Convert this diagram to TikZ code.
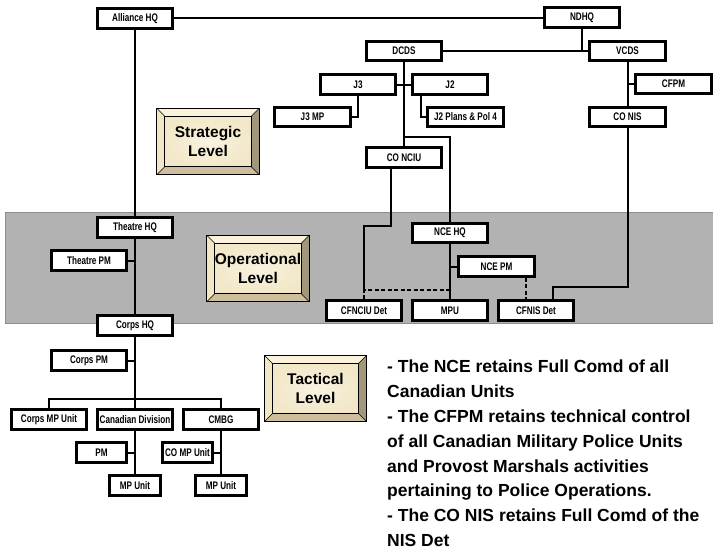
\documentclass[tikz,border=0pt]{standalone}
\usepackage{fontspec}
\setmainfont{Liberation Sans}
\newfontfamily\narrowfont{Liberation Sans}[FakeStretch=0.74]
\usetikzlibrary{backgrounds,calc}
\definecolor{bandgray}{HTML}{B2B2B2}
\definecolor{bandedge}{HTML}{8E8E8E}
\definecolor{lvlface}{HTML}{F2E8C9}
\definecolor{lvlfacein}{HTML}{F8F2DF}
\definecolor{lvltop}{HTML}{FAF2DB}
\definecolor{lvlleft}{HTML}{F1E6C6}
\definecolor{lvlright}{HTML}{A3977B}
\definecolor{lvlbottom}{HTML}{CDBF9E}
\newcommand\bevelbox[1]{%
  \coordinate (#1-onw) at ($(#1.north west)+(-8,-8)$);
  \coordinate (#1-one) at ($(#1.north east)+(8,-8)$);
  \coordinate (#1-osw) at ($(#1.south west)+(-8,8)$);
  \coordinate (#1-ose) at ($(#1.south east)+(8,8)$);
  \fill[lvltop] (#1-onw) -- (#1-one) -- (#1.north east) -- (#1.north west) -- cycle;
  \fill[lvlleft] (#1-onw) -- (#1-osw) -- (#1.south west) -- (#1.north west) -- cycle;
  \fill[lvlright] (#1-one) -- (#1-ose) -- (#1.south east) -- (#1.north east) -- cycle;
  \fill[lvlbottom] (#1-osw) -- (#1-ose) -- (#1.south east) -- (#1.south west) -- cycle;
  \draw[line width=0.7pt] (#1-onw) rectangle (#1-ose);
  \draw[line width=0.7pt] (#1.north west) rectangle (#1.south east);
  \draw[line width=0.6pt] (#1-onw) -- (#1.north west) (#1-one) -- (#1.north east)
     (#1-osw) -- (#1.south west) (#1-ose) -- (#1.south east);
}
\begin{document}
\begin{tikzpicture}[x=1pt,y=-1pt,
  org/.style={draw=black, line width=2.6pt, fill=white, minimum width=75.5pt,
    minimum height=19.5pt, inner sep=1pt,
    font=\narrowfont\bfseries\fontsize{11}{13}\selectfont},
  smallorg/.style={org, minimum width=50.5pt},
  lvl/.style={inner color=lvlfacein, outer color=lvlface, minimum width=86pt,
    minimum height=50pt, inner sep=0pt,
    align=center, font=\bfseries\fontsize{15.5}{18.5}\selectfont},
  link/.style={line width=2pt},
  dlink/.style={line width=2pt, dash pattern=on 4pt off 2.5pt}]
\useasboundingbox (0,0) rectangle (713,550);

% organisation boxes
\node[org] (alliance) at (135,18.5) {Alliance HQ};
\node[org] (ndhq) at (582,17.5) {NDHQ};
\node[org] (dcds) at (404,51) {DCDS};
\node[org] (vcds) at (627.5,51) {VCDS};
\node[org] (j3) at (358,84.5) {J3};
\node[org] (j2) at (450,84.5) {J2};
\node[org] (j3mp) at (312.5,117) {J3 MP};
\node[org] (j2pp) at (465.5,117) {J2 Plans \& Pol 4};
\node[org] (cfpm) at (673.5,84) {CFPM};
\node[org] (conis) at (627.5,117) {CO NIS};
\node[org] (conciu) at (404,157.5) {CO NCIU};
\node[org] (ncehq) at (450,233) {NCE HQ};
\node[org] (ncepm) at (496.5,266.5) {NCE PM};
\node[org] (cfnciu) at (364,310.5) {CFNCIU Det};
\node[org] (mpu) at (450,310.5) {MPU};
\node[org] (cfnis) at (536,310.5) {CFNIS Det};
\node[org] (theatrehq) at (135,227.5) {Theatre HQ};
\node[org] (theatrepm) at (89,260.5) {Theatre PM};
\node[org] (corpshq) at (135,325.5) {Corps HQ};
\node[org] (corpspm) at (89,360.5) {Corps PM};
\node[org] (corpsmp) at (49,419.5) {Corps MP Unit};
\node[org] (candiv) at (135,419.5) {Canadian Division};
\node[org] (cmbg) at (221,419.5) {CMBG};
\node[smallorg] (pm) at (101.5,452.5) {PM};
\node[smallorg] (comp) at (187.5,452.5) {CO MP Unit};
\node[smallorg] (mpu1) at (135,485.5) {MP Unit};
\node[smallorg] (mpu2) at (221,485.5) {MP Unit};

% level boxes
\node[lvl] (strategic) at (208,141.5) {Strategic\\Level};
\bevelbox{strategic}
\node[lvl] (operational) at (258,268.5) {Operational\\Level};
\bevelbox{operational}
\node[lvl] (tactical) at (315.5,388.5) {Tactical\\Level};
\bevelbox{tactical}

% notes
\node[anchor=north west, inner sep=0pt, align=left,
  font=\bfseries\fontsize{17.5}{24.8}\selectfont] (notes) at (387,360)
{- The NCE retains Full Comd of all\\
Canadian Units\\
- The CFPM retains technical control\\
of all Canadian Military Police Units\\
and Provost Marshals activities\\
pertaining to Police Operations.\\
- The CO NIS retains Full Comd of the\\
NIS Det};

% junction points
\path (dcds) ++(0,86) coordinate (b1);
\coordinate (k1) at (391,226);
\coordinate (k2) at (364,226);
\coordinate (k3) at (364,290);
\coordinate (k4) at (450,290);
\path (conis) ++(0,170) coordinate (n1);
\path (candiv) ++(0,-20.5) coordinate (bus);

\begin{scope}[on background layer]
  \fill[bandgray] (5,212) rectangle (713,323);
  \draw[bandedge, line width=0.8pt] (713,212) -- (5,212) -- (5,323) -- (713,323);
  % connectors
  \draw[link] (ndhq.west) -- (ndhq.west -| alliance.east);
  \draw[link] (alliance) -- (theatrehq);
  \draw[link] (ndhq) -- (ndhq |- dcds);
  \draw[link] (dcds) -- (vcds);
  \draw[link] (dcds) -- (conciu);
  \draw[link] (j3) -- (j2);
  \draw[link] (j3) |- (j3mp);
  \draw[link] ([xshift=-29pt]j2.center) |- (j2pp);
  \draw[link] (b1) -| (ncehq);
  \draw[link] (ncehq) -- (mpu);
  \draw[link] (ncehq) |- (ncepm);
  \draw[dlink] ([xshift=29pt]ncepm.south) -- ([xshift=29pt]ncepm.south |- cfnis.north);
  \draw[link] (vcds) -- (conis);
  \draw[link] (vcds |- cfpm) -- (cfpm);
  \draw[link] (conis) -- (n1) -| ([xshift=17pt]cfnis.center);
  \draw[link] ([xshift=-13pt]conciu.center) -- (k1) -- (k2) -- (k3);
  \draw[dlink] (k4) -- (k3) -- (cfnciu.north);
  \draw[link] (theatrehq) -- (corpshq) -- (candiv) -- (mpu1);
  \draw[link] (theatrepm) -- (theatrepm -| theatrehq);
  \draw[link] (corpspm) -- (corpspm -| corpshq);
  \draw[link] (corpsmp) |- (bus) -| (cmbg);
  \draw[link] (pm) -- (pm -| candiv);
  \draw[link] (cmbg) -- (mpu2);
  \draw[link] (comp) -- (comp -| cmbg);
\end{scope}
\end{tikzpicture}
\end{document}
